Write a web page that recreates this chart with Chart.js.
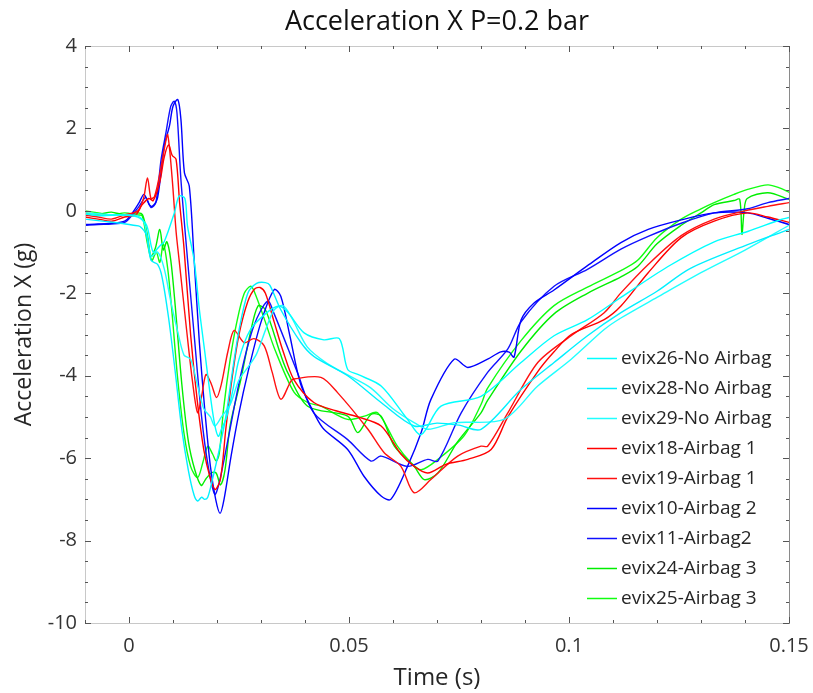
<!DOCTYPE html>
<html>
<head>
<meta charset="utf-8">
<script src="https://cdn.jsdelivr.net/npm/chart.js@4.4.1/dist/chart.umd.min.js"></script>
<style>
  html, body { margin: 0; padding: 0; background: #fff; }
  #wrap { width: 813px; height: 693px; }
</style>
</head>
<body>
<div id="wrap"><canvas id="chart" width="813" height="693"></canvas></div>
<script>
// series values as [time (s), acceleration (g)] pairs
const evix26 = [[-0.01,-0.08],[-0.006,-0.12],[-0.002,-0.1],[0.002,-0.15],[0.004,-0.35],[0.0055,-1.0],[0.007,-0.85],[0.008,-0.75],[0.0103,-0.05],[0.0114,0.36],[0.0127,0.3],[0.0133,-0.37],[0.0148,-1.2],[0.016,-2.4],[0.0172,-3.4],[0.0185,-4.5],[0.0195,-5.2],[0.0203,-5.47],[0.021,-5.3],[0.0222,-5.0],[0.0235,-4.4],[0.025,-3.6],[0.0275,-2.9],[0.031,-2.5],[0.034,-2.31],[0.036,-2.45],[0.0398,-2.96],[0.0443,-3.13],[0.0478,-3.1],[0.0497,-3.85],[0.052,-3.97],[0.0573,-4.25],[0.0633,-5.06],[0.0664,-5.43],[0.0709,-4.74],[0.08,-4.5],[0.0891,-3.68],[0.0966,-3.03],[0.1042,-2.64],[0.1118,-2.1],[0.1225,-1.35],[0.133,-0.75],[0.1406,-0.5],[0.1482,-0.21],[0.15,-0.16]];
const evix28 = [[-0.01,-0.2],[-0.006,-0.25],[-0.002,-0.3],[0.001,-0.35],[0.0025,-0.38],[0.004,-0.6],[0.005,-1.2],[0.0065,-1.3],[0.0075,-1.6],[0.009,-2.6],[0.0105,-3.9],[0.012,-5.3],[0.0135,-6.3],[0.0148,-6.9],[0.0156,-7.04],[0.0165,-6.95],[0.0172,-7.0],[0.0179,-6.95],[0.019,-6.5],[0.0205,-5.8],[0.022,-5.0],[0.0235,-3.9],[0.025,-2.9],[0.027,-2.0],[0.029,-1.76],[0.031,-1.74],[0.032,-1.8],[0.0345,-2.4],[0.0391,-3.2],[0.042,-3.53],[0.0497,-4.0],[0.0573,-4.65],[0.0648,-5.22],[0.07,-5.15],[0.075,-5.2],[0.08,-5.3],[0.0891,-4.33],[0.0966,-3.68],[0.1042,-3.03],[0.1118,-2.47],[0.12,-1.95],[0.1275,-1.4],[0.1406,-0.82],[0.1482,-0.52],[0.15,-0.45]];
const evix29 = [[-0.01,-0.05],[-0.006,-0.08],[-0.002,-0.1],[0.002,-0.12],[0.0035,-0.3],[0.005,-1.1],[0.0065,-1.0],[0.008,-1.4],[0.0095,-2.2],[0.011,-2.9],[0.0125,-3.5],[0.014,-3.6],[0.0155,-4.2],[0.017,-4.8],[0.0185,-5.0],[0.0195,-5.22],[0.021,-5.0],[0.023,-4.7],[0.025,-4.1],[0.027,-3.8],[0.029,-3.47],[0.031,-2.9],[0.033,-2.4],[0.035,-2.3],[0.037,-2.6],[0.0405,-3.3],[0.045,-3.7],[0.05,-4.0],[0.055,-4.3],[0.06,-4.8],[0.065,-5.15],[0.068,-5.3],[0.0739,-5.14],[0.0852,-5.06],[0.0929,-4.25],[0.1005,-3.6],[0.108,-2.88],[0.1118,-2.6],[0.12,-2.1],[0.13,-1.5],[0.14,-0.95],[0.15,-0.35]];
const evix18 = [[-0.01,-0.15],[-0.007,-0.2],[-0.004,-0.25],[-0.001,-0.15],[0.0015,-0.1],[0.003,0.15],[0.0045,0.3],[0.0055,0.25],[0.007,0.7],[0.008,1.3],[0.009,1.6],[0.0098,1.35],[0.0107,1.25],[0.0115,0.2],[0.0125,-0.9],[0.014,-3.0],[0.0155,-4.6],[0.017,-5.8],[0.0185,-6.5],[0.0196,-6.76],[0.0208,-6.5],[0.022,-5.3],[0.0235,-4.0],[0.025,-3.0],[0.027,-2.2],[0.0285,-1.9],[0.0298,-1.86],[0.031,-2.0],[0.033,-2.7],[0.035,-3.4],[0.0375,-4.1],[0.042,-4.65],[0.047,-4.85],[0.052,-5.0],[0.0573,-5.22],[0.0618,-5.9],[0.0648,-6.2],[0.0679,-6.36],[0.072,-6.15],[0.077,-6.03],[0.0823,-5.79],[0.0861,-5.0],[0.0929,-3.9],[0.0966,-3.42],[0.1005,-3.0],[0.108,-2.64],[0.1118,-2.31],[0.118,-1.5],[0.1255,-0.65],[0.133,-0.25],[0.1406,-0.05],[0.1452,-0.15],[0.15,-0.28]];
const evix19 = [[-0.01,-0.1],[-0.007,-0.15],[-0.004,-0.2],[-0.001,-0.1],[0.002,0.0],[0.0033,0.3],[0.0042,0.8],[0.005,0.3],[0.0058,0.35],[0.007,0.9],[0.0082,1.6],[0.0088,1.85],[0.0098,0.8],[0.0107,-0.5],[0.0114,-1.2],[0.013,-2.8],[0.0145,-4.2],[0.0156,-4.9],[0.0165,-4.5],[0.0175,-3.97],[0.0187,-4.2],[0.0199,-4.53],[0.021,-4.2],[0.0225,-3.4],[0.0239,-2.9],[0.0262,-3.2],[0.0284,-3.1],[0.0307,-3.27],[0.0325,-3.9],[0.0345,-4.57],[0.0368,-4.13],[0.0375,-4.08],[0.0436,-4.04],[0.0474,-4.41],[0.0543,-5.3],[0.058,-5.87],[0.0618,-6.2],[0.0648,-6.84],[0.0686,-6.52],[0.0747,-5.95],[0.08,-5.71],[0.0815,-5.71],[0.0861,-4.9],[0.0929,-3.68],[0.1005,-3.03],[0.108,-2.47],[0.1118,-1.99],[0.118,-1.3],[0.1255,-0.6],[0.133,-0.2],[0.14,0.0],[0.1452,0.11],[0.15,0.2]];
const evix10 = [[-0.01,-0.33],[-0.007,-0.32],[-0.004,-0.3],[-0.001,-0.25],[0.0005,-0.09],[0.0023,0.2],[0.0034,0.4],[0.0046,0.15],[0.0053,0.11],[0.0065,0.32],[0.008,1.57],[0.0092,2.06],[0.01,2.54],[0.0111,2.7],[0.0118,2.22],[0.0126,0.92],[0.0137,0.6],[0.0148,-1.18],[0.016,-3.2],[0.0172,-4.8],[0.0185,-6.2],[0.0197,-7.0],[0.0207,-7.34],[0.0216,-7.0],[0.0232,-5.95],[0.025,-4.9],[0.027,-3.93],[0.03,-2.7],[0.033,-1.91],[0.0345,-2.07],[0.0365,-3.0],[0.039,-4.2],[0.0425,-5.0],[0.0443,-5.3],[0.0497,-5.79],[0.0534,-6.44],[0.0573,-6.92],[0.0595,-7.0],[0.0633,-6.2],[0.0664,-5.38],[0.0686,-4.58],[0.0739,-3.6],[0.077,-3.8],[0.0815,-3.6],[0.0845,-3.42],[0.0864,-3.43],[0.0875,-3.55],[0.0891,-2.65],[0.092,-2.24],[0.0966,-1.92],[0.1042,-1.33],[0.1118,-0.77],[0.118,-0.45],[0.1255,-0.22],[0.133,-0.05],[0.1406,-0.05],[0.1452,-0.18],[0.15,-0.33]];
const evix11 = [[-0.01,-0.35],[-0.007,-0.33],[-0.004,-0.32],[-0.001,-0.28],[0.0005,-0.13],[0.0023,0.11],[0.0038,0.32],[0.005,0.08],[0.0061,0.2],[0.0073,1.25],[0.0084,1.9],[0.0095,2.54],[0.0103,2.66],[0.0109,2.38],[0.0118,0.76],[0.0133,-1.18],[0.0148,-3.0],[0.0165,-5.0],[0.018,-6.2],[0.0195,-6.88],[0.0205,-6.6],[0.0225,-5.55],[0.0255,-3.93],[0.0284,-2.78],[0.0315,-2.19],[0.033,-2.5],[0.0383,-3.93],[0.042,-4.9],[0.0497,-5.55],[0.055,-6.07],[0.0573,-5.95],[0.0633,-6.2],[0.0679,-6.03],[0.0702,-6.07],[0.0755,-4.9],[0.0815,-3.92],[0.0861,-3.35],[0.0891,-2.69],[0.0966,-1.83],[0.1042,-1.42],[0.1118,-0.93],[0.118,-0.62],[0.1255,-0.3],[0.133,-0.05],[0.1406,0.05],[0.1452,0.2],[0.15,0.3]];
const evix24 = [[-0.01,-0.05],[-0.007,-0.08],[-0.004,-0.03],[-0.001,-0.1],[0.002,-0.05],[0.0031,-0.1],[0.0042,-0.6],[0.005,-1.1],[0.006,-0.9],[0.007,-0.45],[0.0078,-0.95],[0.0086,-0.75],[0.0095,-1.2],[0.0105,-2.3],[0.012,-4.2],[0.0135,-5.6],[0.015,-6.3],[0.0164,-6.66],[0.0175,-6.5],[0.0188,-6.35],[0.0198,-6.36],[0.0208,-6.65],[0.0218,-6.3],[0.023,-5.2],[0.0254,-4.1],[0.0275,-3.0],[0.0293,-2.31],[0.031,-2.4],[0.0345,-3.5],[0.0361,-3.93],[0.0406,-4.74],[0.0497,-4.98],[0.052,-5.38],[0.055,-4.94],[0.0573,-4.98],[0.0603,-5.71],[0.0648,-6.2],[0.0671,-6.52],[0.0702,-6.36],[0.0747,-5.6],[0.08,-4.9],[0.0815,-4.6],[0.0891,-3.4],[0.0966,-2.5],[0.1042,-2.0],[0.1118,-1.6],[0.1156,-1.35],[0.12,-0.8],[0.1255,-0.35],[0.13,-0.05],[0.133,0.15],[0.1375,0.25],[0.1388,0.28],[0.1393,-0.57],[0.1398,0.0],[0.1405,0.3],[0.1452,0.44],[0.15,0.28]];
const evix25 = [[-0.01,0.0],[-0.007,-0.05],[-0.004,-0.1],[-0.001,-0.05],[0.002,-0.1],[0.003,-0.12],[0.0042,-0.8],[0.0052,-1.2],[0.0062,-1.0],[0.007,-1.25],[0.0078,-0.8],[0.0088,-1.4],[0.0098,-2.5],[0.011,-4.0],[0.0125,-5.4],[0.014,-6.2],[0.0156,-6.47],[0.0168,-6.1],[0.0179,-5.71],[0.019,-5.9],[0.0198,-6.07],[0.0205,-5.9],[0.0215,-4.8],[0.023,-3.6],[0.0245,-2.7],[0.0262,-2.0],[0.0277,-1.83],[0.029,-2.1],[0.031,-2.7],[0.0331,-3.35],[0.0375,-4.4],[0.0406,-4.65],[0.0436,-4.74],[0.0497,-5.06],[0.0535,-4.98],[0.0565,-4.9],[0.061,-5.71],[0.0641,-6.11],[0.0664,-6.28],[0.0702,-6.03],[0.0762,-5.45],[0.08,-4.7],[0.0815,-4.3],[0.0891,-3.15],[0.0966,-2.3],[0.1042,-1.85],[0.1118,-1.45],[0.1156,-1.2],[0.12,-0.65],[0.1255,-0.2],[0.13,0.05],[0.133,0.2],[0.1375,0.4],[0.1406,0.52],[0.1452,0.63],[0.148,0.55],[0.15,0.45]];

const seriesLabels = ['evix26-No Airbag', 'evix28-No Airbag', 'evix29-No Airbag', 'evix18-Airbag 1', 'evix19-Airbag 1', 'evix10-Airbag 2', 'evix11-Airbag2', 'evix24-Airbag 3', 'evix25-Airbag 3'];
const seriesData = [evix26, evix28, evix29, evix18, evix19, evix10, evix11, evix24, evix25];
const seriesColors = ['#00ffff', '#00f0ff', '#20ffff', '#ff0000', '#ff1010', '#0000ff', '#1010ff', '#00ee00', '#10ff10'];

const chartTitle = 'Acceleration X P=0.2 bar';
const xTicks = [0, 0.05, 0.1, 0.15];
const yTicks = [-10, -8, -6, -4, -2, 0, 2, 4];

const FONT = '"Open Sans", "DejaVu Sans", sans-serif';

function toXY(arr) {
    return arr.map(p => ({ x: p[0], y: p[1] }));
}

// title centred over the plot area (not the whole canvas)
const plotTitle = {
    id: 'plotTitle',
    afterDraw(chart) {
        const { ctx, chartArea: a } = chart;
        ctx.save();
        ctx.font = '27px ' + FONT;
        ctx.fillStyle = '#111';
        ctx.textAlign = 'center';
        ctx.textBaseline = 'middle';
        ctx.fillText(chartTitle, (a.left + a.right) / 2, 22);
        ctx.restore();
    }
};

// box round the plot with inward minor/major ticks
const frameTicks = {
    id: 'frameTicks',
    afterDatasetsDraw(chart) {
        const { ctx, chartArea: a, scales } = chart;
        const x = scales.x, y = scales.y;
        ctx.save();
        ctx.lineWidth = 1;
        ctx.strokeStyle = '#c8c8c8';
        ctx.beginPath();
        ctx.moveTo(a.right, a.top + 0.5);
        ctx.lineTo(a.left + 0.5, a.top + 0.5);
        ctx.lineTo(a.left + 0.5, a.bottom + 0.5);
        ctx.lineTo(a.right, a.bottom + 0.5);
        ctx.stroke();
        ctx.strokeStyle = '#8a8a8a';
        ctx.beginPath();
        ctx.moveTo(a.right + 0.5, a.top);
        ctx.lineTo(a.right + 0.5, a.bottom + 1);
        ctx.stroke();

        ctx.strokeStyle = '#555';
        ctx.beginPath();
        for (let i = -1; i <= 15; i++) {
            const px = Math.round(x.getPixelForValue(i / 100)) + 0.5;
            const len = (i % 5 === 0) ? 6 : 3;
            ctx.moveTo(px, a.bottom);
            ctx.lineTo(px, a.bottom - len);
            ctx.moveTo(px, a.top);
            ctx.lineTo(px, a.top + len);
        }
        for (let i = -20; i <= 8; i++) {
            const py = Math.round(y.getPixelForValue(i / 2)) + 0.5;
            const len = (i % 4 === 0) ? 6 : 3;
            ctx.moveTo(a.left, py);
            ctx.lineTo(a.left + len, py);
            ctx.moveTo(a.right, py);
            ctx.lineTo(a.right - len, py);
        }
        ctx.stroke();
        ctx.restore();
    }
};

// legend drawn inside the plot area, lower right
const insideLegend = {
    id: 'insideLegend',
    afterDraw(chart) {
        const { ctx } = chart;
        ctx.save();
        ctx.font = '19px ' + FONT;
        ctx.textBaseline = 'middle';
        chart.data.datasets.forEach((ds, i) => {
            const yy = 358 + 30 * i;
            ctx.strokeStyle = ds.borderColor;
            ctx.lineWidth = 1.5;
            ctx.beginPath();
            ctx.moveTo(587, yy + 0.5);
            ctx.lineTo(617, yy + 0.5);
            ctx.stroke();
            ctx.fillStyle = '#262626';
            ctx.fillText(ds.label, 621, yy + 1);
        });
        ctx.restore();
    }
};

const datasets = seriesData.map((d, i) => ({
    label: seriesLabels[i],
    data: toXY(d),
    borderColor: seriesColors[i],
    backgroundColor: seriesColors[i],
    borderWidth: 1.4,
    pointRadius: 0,
    tension: 0.3,
    fill: false
}));

new Chart(document.getElementById('chart'), {
    type: 'line',
    data: { datasets: datasets },
    options: {
        responsive: false,
        animation: false,
        layout: { padding: { left: 0, right: 24, top: 46, bottom: 0 } },
        plugins: {
            legend: { display: false },
            tooltip: { enabled: false },
            title: { display: false }
        },
        scales: {
            x: {
                type: 'linear',
                min: -0.01,
                max: 0.15,
                afterBuildTicks: s => { s.ticks = xTicks.map(v => ({ value: v })); },
                afterFit: s => { s.height = 70; s.paddingLeft = 0; s.paddingRight = 0; },
                grid: { display: false, drawTicks: false },
                border: { display: false },
                ticks: {
                    color: '#333',
                    padding: 11,
                    maxRotation: 0,
                    font: { family: FONT, size: 20 },
                    callback: v => String(Math.round(v * 100) / 100)
                },
                title: {
                    display: true,
                    text: 'Time (s)',
                    color: '#262626',
                    font: { family: FONT, size: 24 },
                    padding: { top: 0, bottom: 0 }
                }
            },
            y: {
                type: 'linear',
                min: -10,
                max: 4,
                afterBuildTicks: s => { s.ticks = yTicks.map(v => ({ value: v })); },
                afterFit: s => { s.width = 85; },
                grid: { display: false, drawTicks: false },
                border: { display: false },
                ticks: {
                    color: '#333',
                    padding: 8,
                    font: { family: FONT, size: 20 },
                    callback: v => String(v)
                },
                title: {
                    display: true,
                    text: 'Acceleration X (g)',
                    color: '#262626',
                    font: { family: FONT, size: 23 },
                    padding: { top: 11, bottom: 0 }
                }
            }
        }
    },
    plugins: [frameTicks, insideLegend, plotTitle]
});
</script>
</body>
</html>
